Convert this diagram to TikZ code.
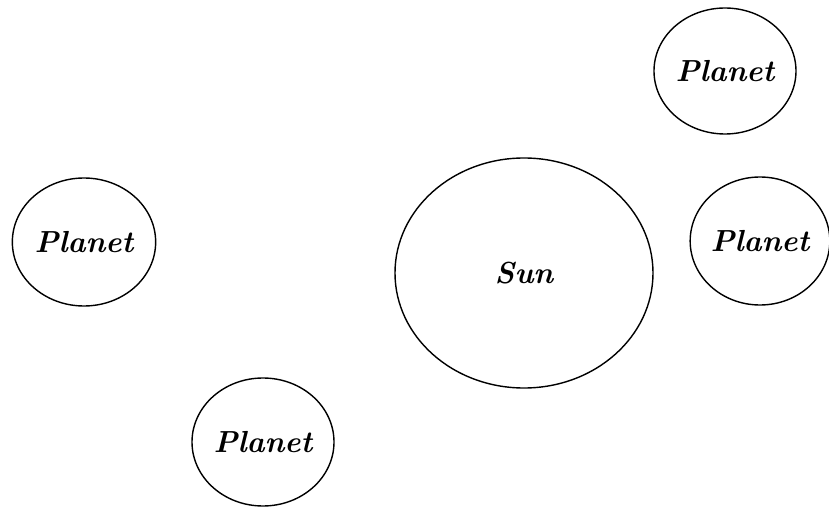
\documentclass[tikz,border=0pt]{standalone}
\usetikzlibrary{shapes.geometric}
\begin{document}
\begin{tikzpicture}[x=0.03cm, y=-0.03cm,
    body/.style={ellipse, draw, line width=1.2pt, inner sep=0pt,
        font=\fontsize{26}{30}\selectfont\bfseries\itshape}]
    % Page frame
    \useasboundingbox (0,0) rectangle (829,508);

    % Sun
    \node[body, minimum width=7.74cm, minimum height=6.9cm] (sun) at (524,273) {Sun};

    % Planets
    \node[body, minimum width=4.26cm, minimum height=3.78cm] (planetTop) at (725,71) {Planet};
    \node[body, minimum width=4.08cm, minimum height=3.84cm] (planetRight) at (760,241) {Planet};
    \node[body, minimum width=4.3cm, minimum height=3.84cm] (planetLeft) at (84,242) {Planet};
    \node[body, minimum width=4.26cm, minimum height=3.84cm] (planetBottom) at (263,442) {Planet};
\end{tikzpicture}
\end{document}
